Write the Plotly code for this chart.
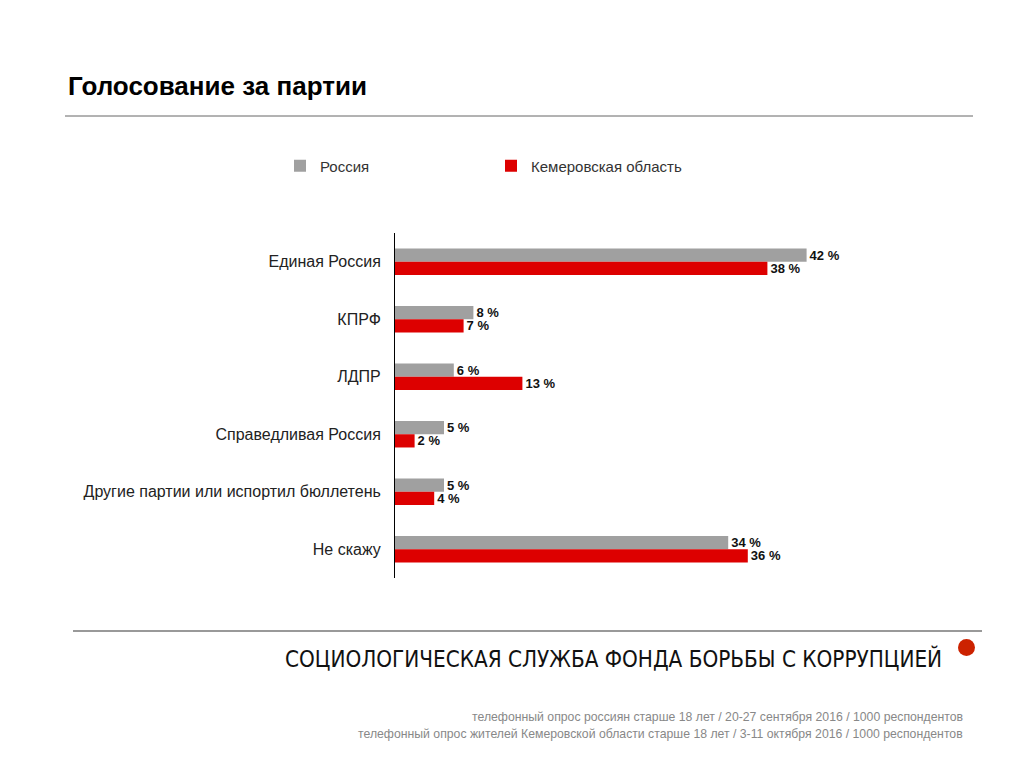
import plotly.graph_objects as go

categories = ["Единая Россия", "КПРФ", "ЛДПР", "Справедливая Россия",
              "Другие партии или испортил бюллетень", "Не скажу"]
russia = [42, 8, 6, 5, 5, 34]
kemerovo = [38, 7, 13, 2, 4, 36]
series_names = ["Россия", "Кемеровская область"]

FONT = "Liberation Sans, Arial, sans-serif"
OFF = 8  # page offset
PL, PT, PW, PH = 395 - OFF, 233 - OFF, 588, 345


def px(x):
    return (x - OFF - PL) / PW


def py(y):
    return 1 - (y - OFF - PT) / PH


fig = go.Figure()
fig.add_trace(go.Bar(
    y=categories, x=russia, orientation="h", name=series_names[0],
    marker=dict(color="#a0a0a0", line=dict(width=0)),
    text=[f"{v} %" for v in russia], textposition="outside",
    textfont=dict(family=FONT, size=13, color="#111111", weight="bold"),
    cliponaxis=False,
))
fig.add_trace(go.Bar(
    y=categories, x=kemerovo, orientation="h", name=series_names[1],
    marker=dict(color="#dd0000", line=dict(width=0)),
    text=[f"{v} %" for v in kemerovo], textposition="outside",
    textfont=dict(family=FONT, size=13, color="#111111", weight="bold"),
    cliponaxis=False,
))

fig.update_layout(
    width=1024, height=768,
    paper_bgcolor="white", plot_bgcolor="white",
    margin=dict(l=PL, r=1024 - PL - PW, t=PT, b=768 - PT - PH),
    barmode="group", bargap=0.54, bargroupgap=0,
    font=dict(family=FONT, color="#222222"),
    uniformtext=dict(minsize=13, mode="show"),
    showlegend=True,
    legend=dict(orientation="h", x=px(280), xanchor="left", y=py(166), yanchor="middle",
                font=dict(size=15, color="#333333"), entrywidth=166, entrywidthmode="pixels",
                itemwidth=30, bgcolor="rgba(0,0,0,0)", traceorder="normal"),
    xaxis=dict(range=[0, 60], visible=False, fixedrange=True),
    yaxis=dict(autorange="reversed", showline=True, linecolor="#000000", linewidth=1,
               ticks="outside", ticklen=10, tickcolor="rgba(0,0,0,0)",
               tickfont=dict(size=16, color="#222222"), showgrid=False, zeroline=False),
)

# Title and separators
fig.add_annotation(text="<b>Голосование за партии</b>", xref="paper", yref="paper",
                   x=px(66), y=py(86), xanchor="left", yanchor="middle", showarrow=False,
                   font=dict(family=FONT, size=26, color="#000000"))
fig.add_shape(type="line", xref="paper", yref="paper",
              x0=px(65), x1=px(973), y0=py(116), y1=py(116),
              line=dict(color="#666666", width=1))
fig.add_shape(type="line", xref="paper", yref="paper",
              x0=px(73), x1=px(982), y0=py(631), y1=py(631),
              line=dict(color="#999999", width=2))
fig.add_annotation(text="СОЦИОЛОГИЧЕСКАЯ СЛУЖБА ФОНДА БОРЬБЫ С КОРРУПЦИЕЙ",
                   xref="paper", yref="paper", x=px(944), y=py(658),
                   xanchor="right", yanchor="middle", showarrow=False,
                   font=dict(family="Liberation Sans Narrow, DejaVu Sans Condensed, sans-serif",
                             size=22.3, color="#111111"))
fig.add_shape(type="circle", xref="paper", yref="paper",
              x0=px(958), x1=px(975), y0=py(656), y1=py(639),
              fillcolor="#cc2200", line=dict(width=0))
fig.add_annotation(text="телефонный опрос россиян старше 18 лет / 20-27 сентября 2016 / 1000 респондентов",
                   xref="paper", yref="paper", x=px(965), y=py(717),
                   xanchor="right", yanchor="middle", showarrow=False,
                   font=dict(family=FONT, size=12.25, color="#888888"))
fig.add_annotation(text="телефонный опрос жителей Кемеровской области старше 18 лет / 3-11 октября 2016 / 1000 респондентов",
                   xref="paper", yref="paper", x=px(965), y=py(734),
                   xanchor="right", yanchor="middle", showarrow=False,
                   font=dict(family=FONT, size=12.25, color="#888888"))

fig.write_html("out.html")
